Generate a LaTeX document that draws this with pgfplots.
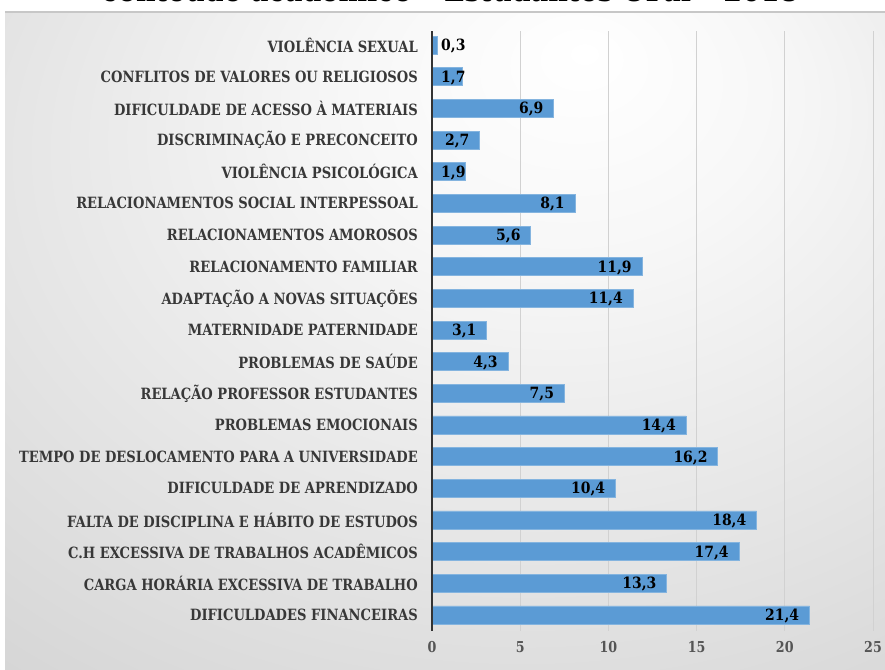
\documentclass[border=0pt]{standalone}
\usepackage{pgfplots}
\pgfplotsset{compat=1.18}
\usepackage{pgfplotstable}
\usepackage{fontspec}
\newfontfamily\labfont{DejaVu Serif Condensed}
\newfontfamily\catfont{DejaVu Serif Condensed}[FakeStretch=0.94]
\definecolor{barblue}{HTML}{5B9BD5}
\definecolor{labgray}{HTML}{383838}
\definecolor{tickgray}{HTML}{555555}
\pgfdeclareradialshading{bgshade}{\pgfpoint{8bp}{22bp}}{color(0bp)=(white); color(12bp)=(white!97!black); color(80bp)=(black!30)}

\pgfplotstableread{
y x lab
0 21.4 21,4
1 13.3 13,3
2 17.4 17,4
3 18.4 18,4
4 10.4 10,4
5 16.2 16,2
6 14.4 14,4
7 7.5 7,5
8 4.3 4,3
9 3.1 3,1
10 11.4 11,4
11 11.9 11,9
12 5.6 5,6
13 8.1 8,1
14 1.9 {}
15 2.7 2,7
16 6.9 6,9
17 1.7 {}
18 0.3 {}
}\datatable

\pgfplotstableread{
y x lab
14 0 1,9
17 0 1,7
18 0 0,3
}\smalltable

\begin{document}
\begin{tikzpicture}[x=1pt,y=1pt]
\useasboundingbox (0,0) rectangle (885,669);
\fill[white] (0,0) rectangle (885,669);
\shade[shading=bgshade] (5,0) rectangle (885,657);
\draw[black!22, line width=2pt] (5,657) -- (885,657);
\node[anchor=base, font=\labfont\bfseries\fontsize{30}{30}\selectfont] at (450,667.5) {conteúdo acadêmico – Estudantes UFal – 2018};
\begin{axis}[
  at={(432pt,38.2pt)}, anchor=south west,
  scale only axis, width=441pt, height=600pt,
  xmin=0, xmax=25, ymin=-0.5, ymax=18.45,
  xbar, bar width=18pt, bar shift=0pt,
  axis line style={draw=none},
  major tick length=0pt,
  xtick={0,5,...,25},
  xmajorgrids, grid style={black!18, line width=0.8pt},
  ytick={0,...,18},
  yticklabels={DIFICULDADES FINANCEIRAS,CARGA HORÁRIA EXCESSIVA DE TRABALHO,C.H EXCESSIVA DE TRABALHOS ACADÊMICOS,FALTA DE DISCIPLINA E HÁBITO DE ESTUDOS,DIFICULDADE DE APRENDIZADO,TEMPO DE DESLOCAMENTO PARA A UNIVERSIDADE,PROBLEMAS EMOCIONAIS,RELAÇÃO PROFESSOR ESTUDANTES,PROBLEMAS DE SAÚDE,MATERNIDADE PATERNIDADE,ADAPTAÇÃO A NOVAS SITUAÇÕES,RELACIONAMENTO FAMILIAR,RELACIONAMENTOS AMOROSOS,RELACIONAMENTOS SOCIAL INTERPESSOAL,VIOLÊNCIA PSICOLÓGICA,DISCRIMINAÇÃO E PRECONCEITO,DIFICULDADE DE ACESSO À MATERIAIS,CONFLITOS DE VALORES OU RELIGIOSOS,VIOLÊNCIA SEXUAL},
  yticklabel style={anchor=east, inner sep=0pt, xshift=-14pt, font=\catfont\bfseries\fontsize{15.5}{15.5}\selectfont, text=labgray},
  xticklabel style={anchor=center, yshift=-16pt, font=\catfont\bfseries\fontsize{15}{15}\selectfont, text=tickgray},
  /pgf/number format/assume math mode=true,
  clip=false,
]
\addplot[fill=barblue, draw=barblue!75!white, line width=0.6pt,
  point meta=explicit symbolic,
  nodes near coords,
  every node near coord/.append style={anchor=east, xshift=-10pt, yshift=-1pt, inner sep=0pt, font=\labfont\bfseries\fontsize{15.5}{15.5}\selectfont, text=black}
] table[x=x, y=y, meta=lab] {\datatable};
\addplot[draw=none, fill=none,
  point meta=explicit symbolic,
  nodes near coords,
  every node near coord/.append style={anchor=west, xshift=9pt, yshift=-1pt, inner sep=0pt, font=\labfont\bfseries\fontsize{15.5}{15.5}\selectfont, text=black}
] table[x=x, y=y, meta=lab] {\smalltable};
\draw[black!80, line width=2pt] (axis cs:0,-0.5) -- (axis cs:0,18.45);
\end{axis}
\end{tikzpicture}
\end{document}
